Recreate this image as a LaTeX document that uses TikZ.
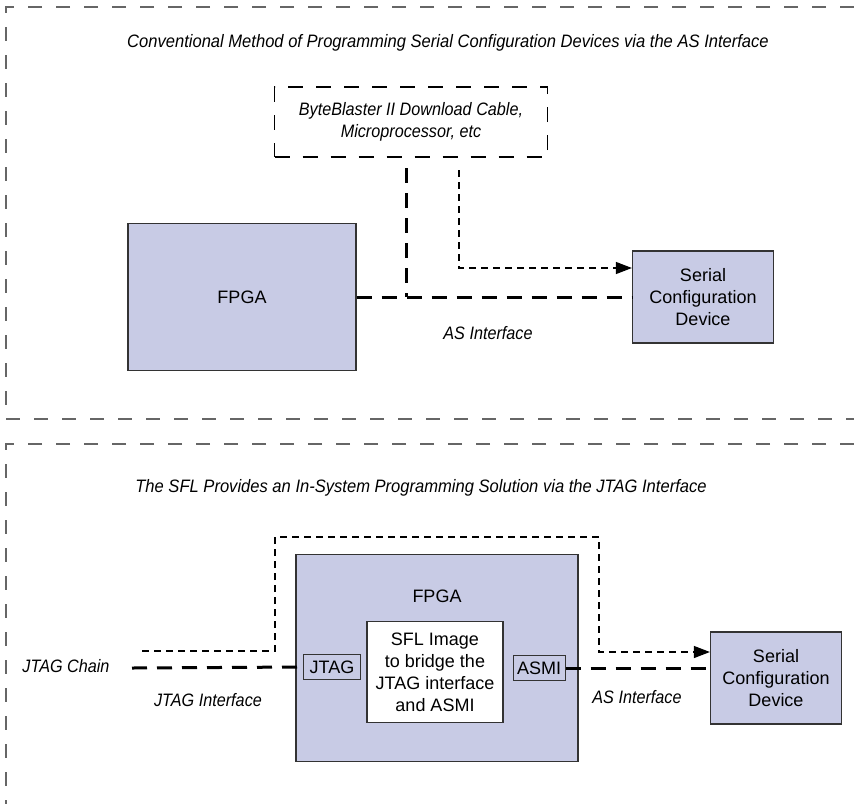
\documentclass[tikz,border=0pt]{standalone}
\usepackage{fontspec}
\setmainfont{Liberation Sans}
\usepackage{xcolor}
\usetikzlibrary{arrows.meta}
\definecolor{lavender}{HTML}{C8CBE5}
\newcommand{\cond}[1]{\scalebox{0.9}[1]{\itshape #1}}
\newcommand{\heading}[1]{\scalebox{0.92}[1]{\itshape #1}}

\begin{document}
\begin{tikzpicture}[x=1pt, y=-1pt,
  font=\fontsize{18}{22}\selectfont,
  panel/.style={draw=black!60, line width=1.5pt, dash pattern=on 14pt off 14pt},
  chip/.style={draw=black!80, fill=lavender, line width=1.2pt, align=center, inner sep=0pt},
  port/.style={draw=black!80, fill=lavender, line width=1pt, inner sep=0pt, minimum height=25pt},
  bigwire/.style={line width=3pt, dash pattern=on 15pt off 10pt},
  smallwire/.style={line width=1.2pt, dash pattern=on 7pt off 5pt, -{Triangle[length=16pt,width=12pt]}}]
\useasboundingbox (0,0) rectangle (854,804);

% upper panel
\draw[panel] (854,7) -- (6,7) -- (6,419) -- (854,419);
\node (title1) at (448,43) {\heading{Conventional Method of Programming Serial Configuration Devices via the AS Interface}};
\node[draw, line width=1.2pt, dash pattern=on 15pt off 13pt, minimum width=273pt, minimum height=70pt, align=center] (cable) at (411,122) {\cond{ByteBlaster II Download Cable,}\\\cond{Microprocessor, etc}};
\node[chip, minimum width=228pt, minimum height=147pt] (fpga1) at (242,297) {FPGA};
\node[chip, minimum width=141pt, minimum height=92pt] (scd1) at (703,297) {Serial\\Configuration\\Device};
\node (as1) at (488,333) {\cond{AS Interface}};
\coordinate (cdrop) at (406,168);
\coordinate (ctap) at (459,170);
\draw[bigwire] (fpga1.east) -- (scd1.west);
\draw[bigwire] (cdrop) -- (cdrop |- fpga1.east);
\draw[smallwire] (ctap) |- ([yshift=29pt]scd1.west);

% lower panel
\draw[panel] (854,444) -- (6,444) -- (6,804);
\node (title2) at (421,488) {\heading{The SFL Provides an In-System Programming Solution via the JTAG Interface}};
\node[chip, minimum width=282pt, minimum height=207pt] (fpga2) at (437,658) {};
\node (fpga2txt) at (437,596) {FPGA};
\node[draw=black!80, fill=white, line width=1.2pt, minimum width=136pt, minimum height=101pt, align=center, inner sep=0pt] (sfl) at (435,672) {SFL Image\\to bridge the\\JTAG interface\\and ASMI};
\node[port, minimum width=57pt] (jtag) at (332,667) {JTAG};
\node[port, minimum width=52pt] (asmi) at (539,668) {ASMI};
\node[chip, minimum width=131pt, minimum height=92pt] (scd2) at (776,678) {Serial\\Configuration\\Device};
\node (chain) at (66,666) {\cond{JTAG Chain}};
\node (jif) at (208,700) {\cond{JTAG Interface}};
\node (as2) at (637,697) {\cond{AS Interface}};
\coordinate (jin) at (132,668);
\coordinate (jtap) at (142,651);
\draw[bigwire] (jin) -- (jtag.west);
\draw[bigwire] (asmi.east) -- (asmi.east -| scd2.west);
\draw[smallwire] (jtap) -- (275,651) -- (275,537) -- (599,537) |- ([yshift=26pt]scd2.west);
\end{tikzpicture}
\end{document}
